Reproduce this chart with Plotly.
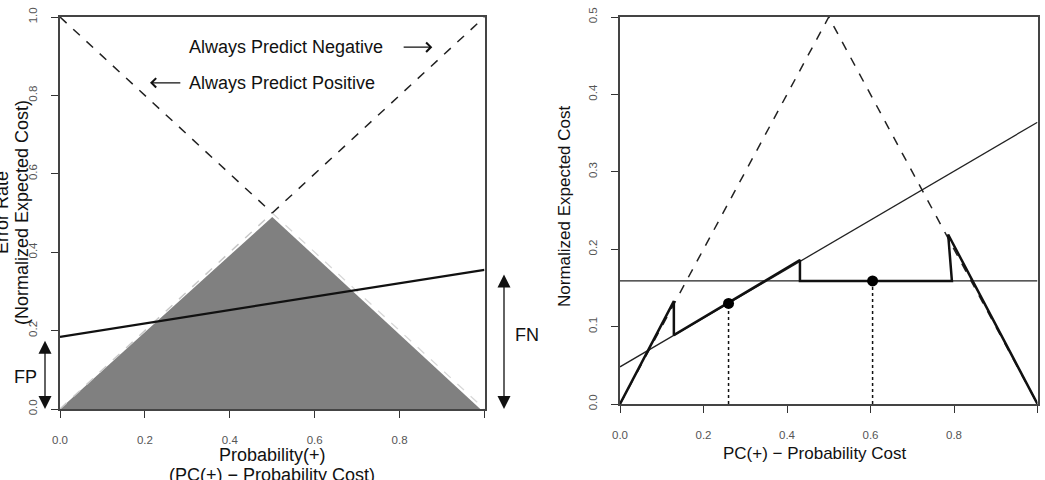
import plotly.graph_objects as go

W, H = 1045, 480

# ---------------- data: left panel ----------------
diag_x = [0.0, 1.0]
always_negative_y = [0.0, 1.0]   # cost line of "always predict negative"
always_positive_y = [1.0, 0.0]   # cost line of "always predict positive"
cross_pt = 0.5
tri_x = [0.0, 0.5, 0.99]
tri_y = [0.0, 0.49, 0.0]
clf_x = [0.0, 1.0]
clf_y = [0.184, 0.355]
fp_range = [0.0, 0.178]
fn_range = [0.0, 0.347]
left_xticks = [0.0, 0.2, 0.4, 0.6, 0.8, 1.0]
left_xticklabels = ["0.0", "0.2", "0.4", "0.6", "0.8", ""]
left_yticks = [0.0, 0.2, 0.4, 0.6, 0.8, 1.0]
left_yticklabels = ["0.0", "0.2", "0.4", "0.6", "0.8", "1.0"]

# ---------------- data: right panel ----------------
triv_x = [0.0, 0.5, 1.0]
triv_y = [0.0, 0.5, 0.0]
flat_x = [0.0, 1.0]
flat_y = [0.159, 0.159]
slope_x = [0.0, 1.0]
slope_y = [0.048, 0.364]
env_x = [0.0, 0.129, 0.129, 0.431, 0.431, 0.795, 0.786, 1.0]
env_y = [0.0, 0.133, 0.089, 0.186, 0.159, 0.159, 0.219, 0.0]
pts_x = [0.26, 0.605]
pts_y = [0.130, 0.159]
right_xticks = [0.0, 0.2, 0.4, 0.6, 0.8, 1.0]
right_xticklabels = ["0.0", "0.2", "0.4", "0.6", "0.8", ""]
right_yticks = [0.0, 0.1, 0.2, 0.3, 0.4, 0.5]
right_yticklabels = ["0.0", "0.1", "0.2", "0.3", "0.4", "0.5"]

FONT = "Liberation Sans, Arial, Helvetica, sans-serif"

def px(x):
    return x / W

def py(y):
    return 1 - y / H

fig = go.Figure()

# ----- left panel traces -----
fig.add_trace(go.Scatter(x=tri_x, y=tri_y, fill="toself", mode="lines",
                         fillcolor="#808080", line=dict(color="#808080", width=0),
                         xaxis="x", yaxis="y", hoverinfo="skip"))
# lower halves of the trivial lines (light, along the triangle edge)
fig.add_trace(go.Scatter(x=[diag_x[0], cross_pt], y=[always_negative_y[0], cross_pt], mode="lines",
                         line=dict(color="#c8c8c8", width=1.5, dash="dash"), xaxis="x", yaxis="y"))
fig.add_trace(go.Scatter(x=[cross_pt, diag_x[1]], y=[cross_pt, always_positive_y[1]], mode="lines",
                         line=dict(color="#d8d8d8", width=1.3, dash="dash"), xaxis="x", yaxis="y"))
# upper halves (black)
fig.add_trace(go.Scatter(x=[cross_pt, diag_x[1]], y=[cross_pt, always_negative_y[1]], mode="lines",
                         line=dict(color="#222", width=1.5, dash="dash"), xaxis="x", yaxis="y"))
fig.add_trace(go.Scatter(x=[diag_x[0], cross_pt], y=[always_positive_y[0], cross_pt], mode="lines",
                         line=dict(color="#222", width=1.5, dash="dash"), xaxis="x", yaxis="y"))
fig.add_trace(go.Scatter(x=clf_x, y=clf_y, mode="lines",
                         line=dict(color="#111", width=2.2), xaxis="x", yaxis="y"))

# ----- right panel traces -----
fig.add_trace(go.Scatter(x=triv_x, y=triv_y, mode="lines",
                         line=dict(color="#222", width=1.5, dash="dash"), xaxis="x2", yaxis="y2"))
fig.add_trace(go.Scatter(x=flat_x, y=flat_y, mode="lines",
                         line=dict(color="#222", width=1.3), xaxis="x2", yaxis="y2"))
fig.add_trace(go.Scatter(x=slope_x, y=slope_y, mode="lines",
                         line=dict(color="#222", width=1.3), xaxis="x2", yaxis="y2"))
fig.add_trace(go.Scatter(x=env_x, y=env_y, mode="lines",
                         line=dict(color="#111", width=2.5), xaxis="x2", yaxis="y2"))
for xv, yv in zip(pts_x, pts_y):
    fig.add_trace(go.Scatter(x=[xv, xv], y=[0, yv], mode="lines",
                             line=dict(color="#111", width=1.5, dash="dot"), xaxis="x2", yaxis="y2"))
fig.add_trace(go.Scatter(x=pts_x, y=pts_y, mode="markers",
                         marker=dict(color="#000", size=11), xaxis="x2", yaxis="y2", cliponaxis=False))

axis_common = dict(showgrid=False, zeroline=False, showline=True, mirror=True, automargin=False,
                   linecolor="#444", linewidth=1.8, ticks="outside", ticklen=7,
                   tickwidth=1.3, tickcolor="#333",
                   tickfont=dict(family=FONT, size=11.5, color="#555"))

fig.update_layout(
    template="none",
    width=W, height=H, margin=dict(l=0, r=0, t=0, b=0, pad=0),
    paper_bgcolor="white", plot_bgcolor="white", showlegend=False,
    xaxis=dict(domain=[px(60), px(484.5)], range=[0, 1], anchor="y",
               tickvals=left_xticks, ticktext=left_xticklabels, ticklabelstandoff=12, **axis_common),
    yaxis=dict(domain=[py(409), py(17)], range=[0, 1], anchor="x",
               tickvals=left_yticks, ticktext=left_yticklabels, tickangle=-90, ticklabelstandoff=10,
               **axis_common),
    xaxis2=dict(domain=[px(620), px(1037.5)], range=[0, 1], anchor="y2",
                tickvals=right_xticks, ticktext=right_xticklabels, ticklabelstandoff=12, **axis_common),
    yaxis2=dict(domain=[py(404), py(17)], range=[0, 0.5], anchor="x2",
                tickvals=right_yticks, ticktext=right_yticklabels, tickangle=-90, ticklabelstandoff=10,
                **axis_common),
)

ann = []
tf = dict(family=FONT, size=18, color="#111")
tf2 = dict(family=FONT, size=17, color="#111")
# left titles
ann.append(dict(text="(Normalized Expected Cost)", x=px(22), y=py(213), xref="paper", yref="paper",
                showarrow=False, textangle=-90, font=tf, xanchor="center", yanchor="middle"))
ann.append(dict(text="Error Rate", x=px(2), y=py(213), xref="paper", yref="paper",
                showarrow=False, textangle=-90, font=tf, xanchor="center", yanchor="middle"))
ann.append(dict(text="Probability(+)", x=px(272), y=py(455), xref="paper", yref="paper",
                showarrow=False, font=tf, xanchor="center", yanchor="middle"))
ann.append(dict(text="(PC(+) \u2212 Probability Cost)", x=px(272), y=py(475), xref="paper", yref="paper",
                showarrow=False, font=tf, xanchor="center", yanchor="middle"))
# left labels
ann.append(dict(text="Always Predict Negative", x=0.298, y=0.923, xref="x", yref="y",
                showarrow=False, font=tf, xanchor="left", yanchor="middle"))
ann.append(dict(text="Always Predict Positive", x=0.298, y=0.832, xref="x", yref="y",
                showarrow=False, font=tf, xanchor="left", yanchor="middle"))
ann.append(dict(text="", x=0.877, y=0.923, xref="x", yref="y", ax=0.806, ay=0.923,
                axref="x", ayref="y", showarrow=True, arrowhead=4, arrowsize=1.4,
                arrowwidth=1.3, arrowcolor="#111"))
ann.append(dict(text="", x=0.212, y=0.832, xref="x", yref="y", ax=0.287, ay=0.832,
                axref="x", ayref="y", showarrow=True, arrowhead=4, arrowsize=1.4,
                arrowwidth=1.3, arrowcolor="#111"))
# FP / FN arrows
ann.append(dict(text="", x=px(45), y=fp_range[0], xref="paper", yref="y", ax=0, ay=fp_range[1],
                axref="pixel", ayref="y", showarrow=True, arrowhead=2, arrowside="end+start",
                arrowsize=2.0, arrowwidth=1.3, arrowcolor="#111"))
ann.append(dict(text="FP", x=px(25), y=py(377), xref="paper", yref="paper",
                showarrow=False, font=tf, xanchor="center", yanchor="middle"))
ann.append(dict(text="", x=px(504), y=fn_range[0], xref="paper", yref="y", ax=0, ay=fn_range[1],
                axref="pixel", ayref="y", showarrow=True, arrowhead=2, arrowside="end+start",
                arrowsize=2.0, arrowwidth=1.3, arrowcolor="#111"))
ann.append(dict(text="FN", x=px(527), y=py(335), xref="paper", yref="paper",
                showarrow=False, font=tf, xanchor="center", yanchor="middle"))
# right titles
ann.append(dict(text="Normalized Expected Cost", x=px(564), y=py(206), xref="paper", yref="paper",
                showarrow=False, textangle=-90, font=tf2, xanchor="center", yanchor="middle"))
ann.append(dict(text="PC(+) \u2212 Probability Cost", x=px(815), y=py(453), xref="paper", yref="paper",
                showarrow=False, font=tf2, xanchor="center", yanchor="middle"))

fig.update_layout(annotations=ann)
fig.write_html("out.html")
